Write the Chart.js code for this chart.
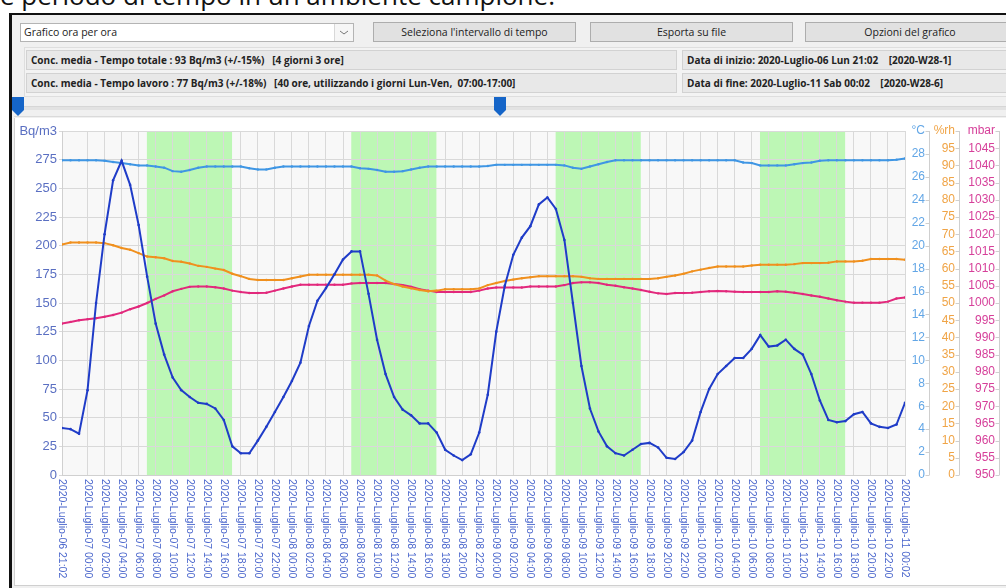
<!DOCTYPE html>
<html>
<head>
<meta charset="utf-8">
<script src="https://cdn.jsdelivr.net/npm/chart.js"></script>
<style>
body{margin:0;width:1006px;height:588px;overflow:hidden;background:#fff;position:relative;font-family:"Open Sans",sans-serif}
.abs{position:absolute;box-sizing:border-box}
#title{left:0;top:-18px;font-size:26px;line-height:26px;color:#111;white-space:nowrap}
#win{left:9px;top:13px;width:1000px;height:580px;border-top:2px solid #111;border-left:3px solid #111;background:#f0f0f0}
#combo{left:20px;top:23px;width:334px;height:19px;background:#fff;border:1px solid #b4b4b4;font-size:10.5px;line-height:17px;padding-left:3px;color:#222}
#combo .arr{position:absolute;right:0;top:0;width:18px;height:17px;border-left:1px solid #d8d8d8;background:#f6f6f6}
.btn{top:22px;height:20px;background:#e1e1e1;border:1px solid #adadad;font-size:10.5px;line-height:18px;text-align:center;color:#222}
#grp{left:24px;top:47px;width:990px;height:50px;border:1px solid #dedede;background:#f3f3f3}
.info{height:20px;background:#e8e8e8;border:1px solid #d2d2d2;font-size:10px;font-weight:bold;line-height:18px;padding-left:4px;color:#222;white-space:pre;overflow:hidden}
#track{left:18px;top:106px;width:990px;height:4px;background:#e2e2e2;border-top:1px solid #d6d6d6}
#sep{left:14px;top:116px;width:992px;height:1px;background:#dadada}
#panel{left:14px;top:118px;width:992px;height:468px;background:#fff;border-left:1px solid #d0d0d0;border-bottom:1px solid #cfcfcf}
#wrap{left:14px;top:119px;width:992px;height:466px}
</style>
</head>
<body>
<div id="title" class="abs">e periodo di tempo in un ambiente campione.</div>
<div id="win" class="abs"></div>
<div id="combo" class="abs">Grafico ora per ora<div class="arr"><svg width="18" height="17"><polyline points="5,7 9,10 13,7" fill="none" stroke="#777" stroke-width="1"/></svg></div></div>
<div class="abs btn" style="left:373px;width:203px">Seleziona l'intervallo di tempo</div>
<div class="abs btn" style="left:590px;width:203px">Esporta su file</div>
<div class="abs btn" style="left:805px;width:210px">Opzioni del grafico</div>
<div id="grp" class="abs"></div>
<div class="abs info" style="left:26px;top:50px;width:651px">Conc. media - Tempo totale : 93 Bq/m3 (+/-15%)   [4 giorni 3 ore]</div>
<div class="abs info" style="left:26px;top:73px;width:651px">Conc. media - Tempo lavoro : 77 Bq/m3 (+/-18%)   [40 ore, utilizzando i giorni Lun-Ven,  07:00-17:00]</div>
<div class="abs info" style="left:682px;top:50px;width:330px">Data di inizio: 2020-Luglio-06 Lun 21:02    [2020-W28-1]</div>
<div class="abs info" style="left:682px;top:73px;width:330px">Data di fine: 2020-Luglio-11 Sab 00:02    [2020-W28-6]</div>
<div id="track" class="abs"></div>
<svg class="abs" style="left:12px;top:97px" width="12" height="19"><polygon points="0,0 12,0 12,13 6,19 0,13" fill="#1565c8"/></svg>
<svg class="abs" style="left:494px;top:97px" width="12" height="19"><polygon points="0,0 12,0 12,13 6,19 0,13" fill="#1565c8"/></svg>
<div id="sep" class="abs"></div>
<div id="panel" class="abs"></div>
<div id="wrap" class="abs"><canvas id="c"></canvas></div>
<script>
// hourly readings, first at 2020-07-06 21:02
const radon = [41,40,36,74,150,210,257,274,253,218,173,132,105,85,74,68,63,62,58,48,
  25,19,19,30,42,55,68,82,98,130,152,163,175,188,195,195,158,118,88,68,
  57,52,45,45,37,22,17,13,18,37,70,125,165,192,207,217,236,242,232,205,
  150,95,58,38,25,19,17,22,27,28,24,15,14,20,30,55,75,88,95,102,
  102,110,122,112,113,118,110,105,88,65,48,46,47,53,55,45,42,41,44,63];
const temperatura = [27.45,27.45,27.45,27.45,27.45,27.4,27.3,27.2,27.1,27.0,27.0,26.9,26.8,26.5,26.45,26.6,26.8,26.9,26.9,26.9,
  26.9,26.9,26.75,26.65,26.65,26.8,26.9,26.9,26.9,26.9,26.9,26.9,26.9,26.9,26.9,26.75,26.7,26.6,26.45,26.45,
  26.5,26.65,26.8,26.9,26.9,26.9,26.9,26.9,26.9,26.9,26.95,27.05,27.05,27.05,27.05,27.05,27.05,27.05,27.05,27.0,
  26.8,26.7,26.9,27.1,27.3,27.45,27.45,27.45,27.45,27.45,27.45,27.45,27.45,27.45,27.45,27.45,27.45,27.45,27.45,27.45,
  27.25,27.2,27.0,27.0,27.0,27.0,27.1,27.2,27.25,27.4,27.45,27.45,27.45,27.45,27.45,27.45,27.45,27.45,27.5,27.6];
const umidita = [67.0,67.6,67.6,67.6,67.6,67.4,66.8,66.0,65.5,64.5,63.5,63.3,63.0,62.2,62.0,61.5,60.8,60.5,60.0,59.6,
  58.5,57.8,57.0,56.7,56.7,56.7,56.7,57.2,57.7,58.2,58.2,58.2,58.2,58.2,58.2,58.2,58.2,58.0,56.5,55.5,
  54.8,54.3,53.8,53.4,53.6,54.0,54.0,54.0,54.0,54.2,55.2,55.8,56.4,56.8,57.2,57.5,57.8,57.8,57.8,57.8,
  57.8,57.6,57.2,57.0,57.0,57.0,57.0,57.0,57.0,57.0,57.2,57.6,58.0,58.5,59.2,59.7,60.2,60.6,60.6,60.6,
  60.6,60.9,61.1,61.1,61.1,61.1,61.3,61.6,61.6,61.6,61.7,62.1,62.1,62.1,62.3,62.8,62.8,62.8,62.8,62.6];
const pressione = [994.0,994.5,995.0,995.3,995.6,996.0,996.5,997.2,998.2,999.0,1000.0,1001.2,1002.2,1003.4,1004.1,1004.7,1004.8,1004.8,1004.6,1004.2,
  1003.6,1003.2,1002.9,1002.9,1003.0,1003.6,1004.2,1004.8,1005.3,1005.3,1005.3,1005.3,1005.3,1005.3,1005.7,1005.8,1005.8,1005.8,1005.8,1005.5,
  1005.2,1004.7,1004.0,1003.6,1003.2,1003.2,1003.2,1003.2,1003.2,1003.6,1004.2,1004.5,1004.5,1004.5,1004.5,1004.8,1004.8,1004.8,1004.8,1005.2,
  1005.8,1006.0,1006.0,1005.8,1005.3,1005.0,1004.6,1004.2,1003.8,1003.3,1002.8,1002.6,1002.9,1002.9,1003.0,1003.2,1003.4,1003.5,1003.4,1003.3,
  1003.2,1003.2,1003.2,1003.2,1003.4,1003.3,1003.0,1002.6,1002.2,1001.8,1001.3,1000.8,1000.4,1000.1,1000.1,1000.1,1000.1,1000.4,1001.3,1001.6];

// x axis labels (hours from the first reading)
const tickPos = [0,3,5,7,9,11,13,15,17,19,21,23,25,27,29,31,33,35,37,39,41,43,45,47,49,
  51,53,55,57,59,61,63,65,67,69,71,73,75,77,79,81,83,85,87,89,91,93,95,97,99];
const tickLabels = ['2020-Luglio-06 21:02',
  '2020-Luglio-07 00:00','2020-Luglio-07 02:00','2020-Luglio-07 04:00','2020-Luglio-07 06:00','2020-Luglio-07 08:00','2020-Luglio-07 10:00',
  '2020-Luglio-07 12:00','2020-Luglio-07 14:00','2020-Luglio-07 16:00','2020-Luglio-07 18:00','2020-Luglio-07 20:00','2020-Luglio-07 22:00',
  '2020-Luglio-08 00:00','2020-Luglio-08 02:00','2020-Luglio-08 04:00','2020-Luglio-08 06:00','2020-Luglio-08 08:00','2020-Luglio-08 10:00',
  '2020-Luglio-08 12:00','2020-Luglio-08 14:00','2020-Luglio-08 16:00','2020-Luglio-08 18:00','2020-Luglio-08 20:00','2020-Luglio-08 22:00',
  '2020-Luglio-09 00:00','2020-Luglio-09 02:00','2020-Luglio-09 04:00','2020-Luglio-09 06:00','2020-Luglio-09 08:00','2020-Luglio-09 10:00',
  '2020-Luglio-09 12:00','2020-Luglio-09 14:00','2020-Luglio-09 16:00','2020-Luglio-09 18:00','2020-Luglio-09 20:00','2020-Luglio-09 22:00',
  '2020-Luglio-10 00:00','2020-Luglio-10 02:00','2020-Luglio-10 04:00','2020-Luglio-10 06:00','2020-Luglio-10 08:00','2020-Luglio-10 10:00',
  '2020-Luglio-10 12:00','2020-Luglio-10 14:00','2020-Luglio-10 16:00','2020-Luglio-10 18:00','2020-Luglio-10 20:00','2020-Luglio-10 22:00',
  '2020-Luglio-11 00:02'];

// working hours (07:00-17:00, Mon-Fri)
const lavoroInizio = [9.97,33.97,57.97,81.97];
const lavoroFine = [19.97,43.97,67.97,91.97];

function pts(arr){ return arr.map((v,i)=>({x:i,y:v})); }

const sfondo = {
  id:'sfondo',
  beforeDraw(chart){
    const a = chart.chartArea, ctx = chart.ctx, xs = chart.scales.x;
    ctx.save();
    ctx.fillStyle = '#f8f8f8';
    ctx.fillRect(a.left, a.top, a.right-a.left, a.bottom-a.top);
    ctx.fillStyle = '#bdf7b5';
    for (let i=0;i<lavoroInizio.length;i++){
      const x1 = xs.getPixelForValue(lavoroInizio[i]);
      const x2 = xs.getPixelForValue(lavoroFine[i]);
      ctx.fillRect(x1, a.top, x2-x1, a.bottom-a.top);
    }
    ctx.restore();
  },
  afterDraw(chart){
    const a = chart.chartArea, ctx = chart.ctx, xs = chart.scales.x;
    ctx.save();
    // right axes: line just right of the labels, with small tick dashes
    ctx.strokeStyle = '#cfcfcf';
    ctx.lineWidth = 1;
    ['t','h','p'].forEach(id => {
      const s = chart.scales[id];
      const x = Math.round(s.right) + 4.5;
      ctx.beginPath();
      ctx.moveTo(x, a.top); ctx.lineTo(x, a.bottom);
      s.ticks.forEach(t => {
        const y = Math.round(s.getPixelForValue(t.value)) + 0.5;
        ctx.moveTo(x-4, y); ctx.lineTo(x, y);
      });
      ctx.stroke();
    });
    ctx.font = '10.5px "Liberation Sans", Arial, sans-serif';
    ctx.fillStyle = '#4a66cc';
    ctx.textAlign = 'left';
    ctx.textBaseline = 'middle';
    for (let i=0;i<tickPos.length;i++){
      ctx.save();
      ctx.translate(xs.getPixelForValue(tickPos[i]), a.bottom+4);
      ctx.rotate(Math.PI/2);
      ctx.fillText(tickLabels[i], 0, 0);
      ctx.restore();
    }
    ctx.restore();
  }
};

function asse(colore, min, max, step, titolo, larghezza){
  return {
    position:'right', min:min, max:max,
    grid:{drawOnChartArea:false, drawTicks:false},
    border:{display:false},
    afterFit(s){ s.width = larghezza; },
    ticks:{stepSize:step, autoSkip:false, crossAlign:'far', padding:2, color:colore,
      font:{family:'"Liberation Sans", Arial, sans-serif', size:12},
      callback:v => v===max ? titolo : v}
  };
}

new Chart(document.getElementById('c'), {
  type:'line',
  data:{
    datasets:[
      {label:'Bq/m3', data:pts(radon), yAxisID:'y', borderColor:'#1f3cc8', backgroundColor:'#1f3cc8', borderWidth:2, pointRadius:1.3, pointBorderWidth:0},
      {label:'°C', data:pts(temperatura), yAxisID:'t', borderColor:'#3f96e4', backgroundColor:'#3f96e4', borderWidth:2, pointRadius:1.2, pointBorderWidth:0},
      {label:'%rh', data:pts(umidita), yAxisID:'h', borderColor:'#f0901e', backgroundColor:'#f0901e', borderWidth:2, pointRadius:1.2, pointBorderWidth:0},
      {label:'mbar', data:pts(pressione), yAxisID:'p', borderColor:'#e2287c', backgroundColor:'#e2287c', borderWidth:2, pointRadius:1.2, pointBorderWidth:0}
    ]
  },
  options:{
    responsive:true, maintainAspectRatio:false, animation:false,
    layout:{padding:{top:12, right:11, left:0, bottom:0}},
    plugins:{legend:{display:false}, tooltip:{enabled:false}},
    scales:{
      x:{type:'linear', min:0, max:99,
        afterBuildTicks(s){ s.ticks = tickPos.map(v=>({value:v})); },
        afterFit(s){ s.height = 110; },
        grid:{color:'#d9d9d9', drawTicks:false},
        border:{color:'#d0d0d0'},
        ticks:{display:false}
      },
      y:{position:'left', min:0, max:300,
        afterFit(s){ s.width = 48; },
        grid:{color:'#d9d9d9', tickLength:3},
        border:{color:'#d0d0d0'},
        ticks:{stepSize:25, autoSkip:false, padding:2, color:'#5a6fc2',
          font:{family:'"Liberation Sans", Arial, sans-serif', size:13},
          callback:v => v===300 ? 'Bq/m3' : v}
      },
      t:asse('#62a6e6', 0, 30, 2, '°C', 20),
      h:asse('#f0a446', 0, 100, 5, '%rh', 30),
      p:asse('#d6409a', 950, 1050, 5, 'mbar', 40)
    }
  },
  plugins:[sfondo]
});
</script>
</body>
</html>
